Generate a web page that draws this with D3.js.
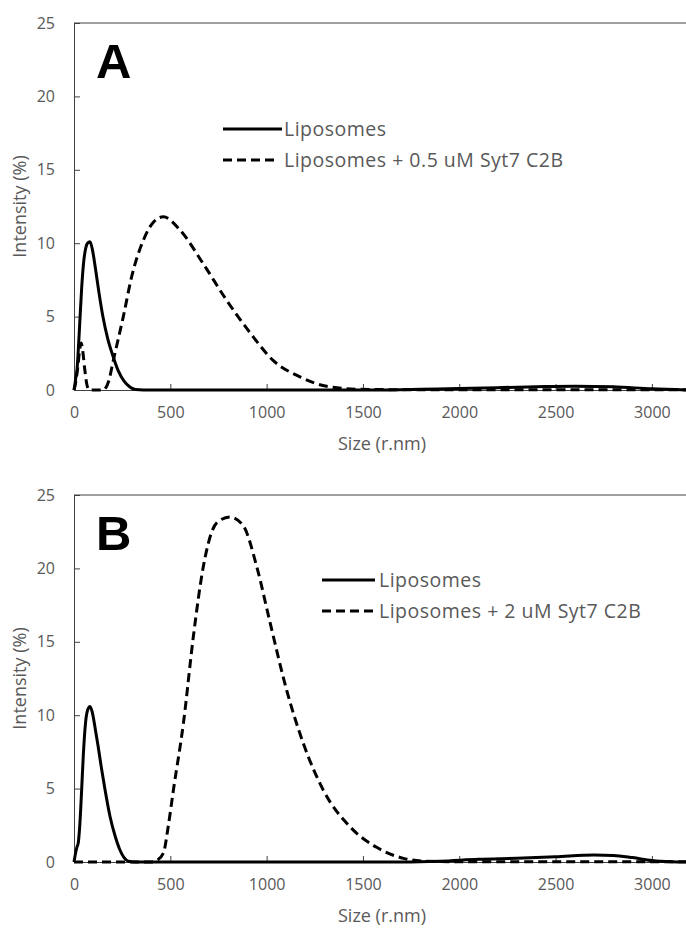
<!DOCTYPE html>
<html>
<head>
<meta charset="utf-8">
<script src="https://cdn.jsdelivr.net/npm/d3@7"></script>
<style>
  body { margin: 0; background: #fff; }
  svg { display: block; }
  .tick text { font-family: "Open Sans", sans-serif; font-size: 16px; fill: #595959; }
  .lbl { font-family: "Open Sans", sans-serif; fill: #595959; }
</style>
</head>
<body>
<script>
// tick labels
const xTicks = [0, 500, 1000, 1500, 2000, 2500, 3000];
const yTicks = [0, 5, 10, 15, 20, 25];

// panel A - liposomes alone (size in r.nm, intensity in %)
const aLipoSize = [0, 5, 10, 15, 20, 30, 40, 50, 60, 70, 83, 95, 110, 130, 150, 175, 200, 230, 260, 290, 320, 360, 1600, 1800, 2000, 2200, 2400, 2600, 2800, 3000, 3200];
const aLipoInt  = [0, 0.4, 0.9, 1.3, 2.2, 4.6, 7.0, 8.7, 9.6, 10.0, 10.1, 9.6, 8.4, 6.6, 5.0, 3.5, 2.4, 1.3, 0.6, 0.2, 0.03, 0, 0, 0.05, 0.1, 0.16, 0.22, 0.26, 0.22, 0.08, 0];

// panel A - liposomes + 0.5 uM Syt7 C2B
const aSytSize = [0, 10, 20, 30, 37, 45, 55, 65, 75, 85, 150, 180, 204, 230, 256, 299, 360, 410, 464, 550, 671, 793, 914, 1035, 1173, 1312, 1485, 1700, 3200];
const aSytInt  = [0, 0.6, 1.6, 2.8, 3.2, 2.7, 1.5, 0.5, 0.05, 0, 0, 0.6, 2.0, 3.5, 5.0, 7.7, 10.2, 11.4, 11.8, 10.9, 8.6, 6.1, 3.9, 2.0, 0.9, 0.25, 0.05, 0.02, 0.02];

// panel B - liposomes alone
const bLipoSize = [0, 8, 15, 22, 30, 40, 48, 60, 72, 83, 95, 110, 125, 140, 160, 187, 215, 239, 260, 282, 320, 1700, 1900, 2100, 2300, 2500, 2700, 2800, 2900, 3000, 3100, 3200];
const bLipoInt  = [0, 0.6, 1.0, 1.3, 2.5, 5.0, 7.2, 9.5, 10.4, 10.6, 10.2, 9.1, 7.9, 6.6, 5.0, 3.1, 1.7, 0.8, 0.3, 0.05, 0, 0, 0.05, 0.18, 0.25, 0.35, 0.47, 0.45, 0.3, 0.1, 0.02, 0];

// panel B - liposomes + 2 uM Syt7 C2B
const bSytSize = [0, 400, 429, 464, 490, 516, 568, 620, 671, 741, 810, 879, 949, 1018, 1104, 1190, 1294, 1433, 1571, 1710, 1831, 2000, 3200];
const bSytInt  = [0, 0, 0.1, 0.6, 2.5, 4.9, 9.45, 15.4, 20.1, 23.1, 23.5, 22.9, 20.1, 16.3, 11.7, 8.1, 4.9, 2.4, 1.0, 0.25, 0.05, 0.02, 0.02];

const width = 686, height = 928;
const svg = d3.select("body").append("svg").attr("width", width).attr("height", height);

const x = d3.scaleLinear().domain([0, 3200]).range([74, 690.4]);

const panels = [
  { letter: "A", top: 23, bottom: 390,
    lipo: [aLipoSize, aLipoInt], syt: [aSytSize, aSytInt],
    names: ["Liposomes", "Liposomes + 0.5 uM Syt7 C2B"],
    legX: 223, legY: 129, solidLen: 59, textX: 284 },
  { letter: "B", top: 495, bottom: 862,
    lipo: [bLipoSize, bLipoInt], syt: [bSytSize, bSytInt],
    names: ["Liposomes", "Liposomes + 2 uM Syt7 C2B"],
    legX: 322, legY: 580, solidLen: 53, textX: 379 }
];

const dash = "9,5";

panels.forEach(p => {
  const y = d3.scaleLinear().domain([0, 25]).range([p.bottom, p.top]);
  const g = svg.append("g");

  // frame top line
  g.append("line").attr("x1", 74).attr("x2", width).attr("y1", p.top).attr("y2", p.top)
    .attr("stroke", "#404040").attr("stroke-width", 1);

  const yAxis = g.append("g").attr("transform", "translate(74,0)")
    .call(d3.axisLeft(y).tickValues(yTicks).tickSizeInner(-6).tickSizeOuter(0).tickPadding(19));
  yAxis.select(".domain").attr("stroke", "#404040");
  yAxis.selectAll(".tick line").attr("stroke", "#404040");

  const xAxis = g.append("g").attr("transform", "translate(0," + p.bottom + ")")
    .call(d3.axisBottom(x).tickValues(xTicks).tickFormat(d3.format("d"))
      .tickSizeInner(-6).tickSizeOuter(0).tickPadding(17));
  xAxis.select(".domain").attr("stroke", "#404040");
  xAxis.selectAll(".tick line").attr("stroke", "#404040");

  const line = d3.line()
    .x(d => x(d[0])).y(d => y(d[1]))
    .curve(d3.curveMonotoneX);

  const syt = p.syt[0].map((s, i) => [s, p.syt[1][i]]);
  const lipo = p.lipo[0].map((s, i) => [s, p.lipo[1][i]]);

  g.append("path").datum(syt).attr("d", line)
    .attr("fill", "none").attr("stroke", "#000").attr("stroke-width", 3)
    .attr("stroke-dasharray", dash);
  g.append("path").datum(lipo).attr("d", line)
    .attr("fill", "none").attr("stroke", "#000").attr("stroke-width", 3);

  // axis titles
  g.append("text").attr("class", "lbl")
    .attr("transform", "translate(26," + (p.top + p.bottom) / 2 + ") rotate(-90)")
    .attr("text-anchor", "middle").attr("font-size", 18).text("Intensity (%)");
  g.append("text").attr("class", "lbl")
    .attr("x", 382).attr("y", p.bottom + 60)
    .attr("text-anchor", "middle").attr("font-size", 18).text("Size (r.nm)");

  // panel letter
  g.append("text").attr("x", 96).attr("y", p.top + 55)
    .attr("font-family", "Liberation Sans, Arial, sans-serif").attr("font-weight", "bold")
    .attr("font-size", 49).text(p.letter);

  // legend
  const leg = g.append("g");
  leg.append("line").attr("x1", p.legX).attr("x2", p.legX + p.solidLen)
    .attr("y1", p.legY).attr("y2", p.legY).attr("stroke", "#000").attr("stroke-width", 3);
  leg.append("line").attr("x1", p.legX).attr("x2", p.legX + 51)
    .attr("y1", p.legY + 31).attr("y2", p.legY + 31).attr("stroke", "#000").attr("stroke-width", 3)
    .attr("stroke-dasharray", dash);
  p.names.forEach((n, i) => {
    leg.append("text").attr("class", "lbl").attr("x", p.textX).attr("y", p.legY + i * 31)
      .attr("dy", "0.35em").attr("font-size", 19.5).attr("letter-spacing", 0.5).text(n);
  });
});
</script>
</body>
</html>
